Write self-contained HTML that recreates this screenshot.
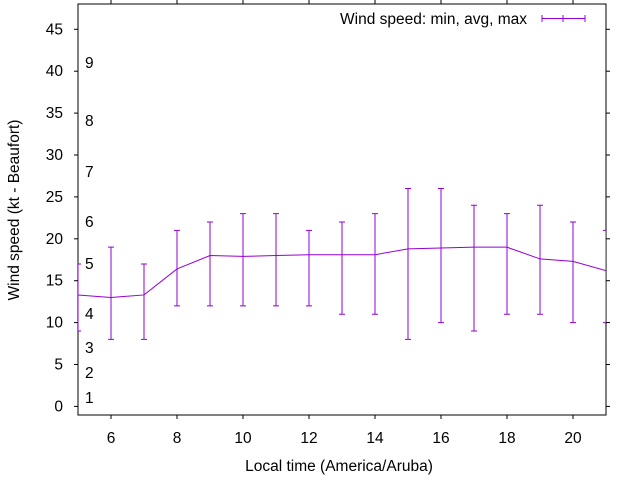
<!DOCTYPE html>
<html><head><meta charset="utf-8"><style>
body{margin:0;background:#fff}
svg{display:block;font-family:"Liberation Sans",sans-serif;font-size:15.5px}
</style></head><body>
<svg width="640" height="480" viewBox="0 0 640 480">
<g id="ax"></g><g id="marks"></g>
</svg>
<script>
const hours=[5,6,7,8,9,10,11,12,13,14,15,16,17,18,19,20,21];
const avgV=[13.3,13,13.3,16.4,18,17.9,18,18.1,18.1,18.1,18.8,18.9,19,19,17.6,17.3,16.2];
const minV=[9,8,8,12,12,12,12,12,11,11,8,10,9,11,11,10,10];
const maxV=[17,19,17,21,22,23,23,21,22,23,26,26,24,23,24,22,21];
const xTicks=[6,8,10,12,14,16,18,20];
const yTicks=[0,5,10,15,20,25,30,35,40,45];
const beaufort=[["1",397],["2",372],["3",347],["4",313],["5",263],["6",221],["7",171],["8",120],["9",62]];
const L=78,R=606,T=4,B=415;
const X=v=>L+(v-5)/(21-5)*(R-L);
const Y=v=>406.4-v*8.38;
const NS="http://www.w3.org/2000/svg";
function mk(p,tag,a,txt){const e=document.createElementNS(NS,tag);for(const k in a)e.setAttribute(k,a[k]);if(txt!==undefined)e.textContent=txt;p.appendChild(e);return e;}
const ax=document.getElementById('ax'),mg=document.getElementById('marks');
const fr=mk(ax,'rect',{x:L,y:T,width:R-L,height:B-T,fill:'none',stroke:'#000','stroke-width':1});

yTicks.forEach(v=>{const y=Y(v);
mk(ax,'line',{x1:L-4,y1:y,x2:L,y2:y,stroke:'#000'});
mk(ax,'line',{x1:R,y1:y,x2:R+4,y2:y,stroke:'#000'});
const t=mk(ax,'text',{x:L-15,y:y+5,'text-anchor':'end'},v);
});
xTicks.forEach(v=>{const x=X(v);
mk(ax,'line',{x1:x,y1:B,x2:x,y2:B+4,stroke:'#000'});
mk(ax,'line',{x1:x,y1:T-4,x2:x,y2:T,stroke:'#000'});
const t=mk(ax,'text',{x:x,y:443,'text-anchor':'middle'},v);
});
beaufort.forEach(b=>{const t=mk(ax,'text',{x:85,y:b[1]+6},b[0]);
});
const xt=mk(ax,'text',{x:339,y:471,'text-anchor':'middle'},'Local time (America/Aruba)');

const yt=mk(ax,'text',{x:0,y:0,'text-anchor':'middle',transform:'translate(19,210) rotate(-90)'},'Wind speed (kt - Beaufort)');

const C='#9400d3';
const cl=mk(mg,'clipPath',{id:'c'});mk(cl,'rect',{x:L,y:T,width:R-L,height:B-T});
const g=mk(mg,'g',{'clip-path':'url(#c)'});
hours.forEach((h,i)=>{const x=X(h);
const e=mk(g,'path',{d:`M${x},${Y(minV[i])}V${Y(maxV[i])}M${x-3},${Y(minV[i])}h6M${x-3},${Y(maxV[i])}h6`,stroke:C,fill:'none'});
});
const ln=mk(g,'polyline',{points:hours.map((h,i)=>X(h)+','+Y(avgV[i])).join(' '),fill:'none',stroke:C});

const lt=mk(ax,'text',{x:527,y:24,'text-anchor':'end'},'Wind speed: min, avg, max');

const lm=mk(ax,'path',{d:'M542,18.5H585M542,15v7M563,15v7M585,15v7',stroke:C,fill:'none'});

</script>
</body></html>
